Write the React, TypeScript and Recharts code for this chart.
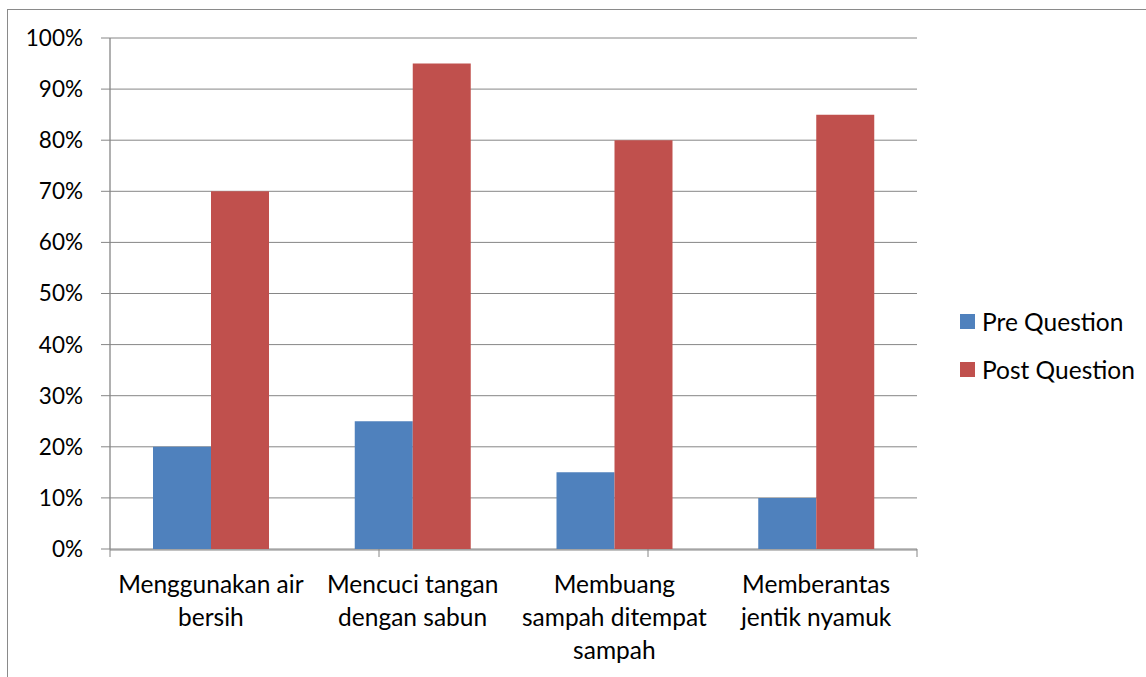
import React from 'react';
import { BarChart, Bar, XAxis, YAxis, CartesianGrid, Legend } from 'recharts';

const categories = [
  'Menggunakan air bersih',
  'Mencuci tangan dengan sabun',
  'Membuang sampah ditempat sampah',
  'Memberantas jentik nyamuk',
];
const categoryLines = [
  ['Menggunakan air', 'bersih'],
  ['Mencuci tangan', 'dengan sabun'],
  ['Membuang', 'sampah ditempat', 'sampah'],
  ['Memberantas', 'jentik nyamuk'],
];
const preQuestion = [0.2, 0.25, 0.15, 0.1];
const postQuestion = [0.7, 0.95, 0.8, 0.85];
const yTicks = [0, 0.1, 0.2, 0.3, 0.4, 0.5, 0.6, 0.7, 0.8, 0.9, 1];
const seriesNames = ['Pre Question', 'Post Question'];
const seriesColors = ['#4F81BD', '#C0504D'];

const data = categories.map((name, i) => ({
  name,
  idx: i,
  pre: preQuestion[i],
  post: postQuestion[i],
}));
const boundaryTicks = categories.map((_, i) => i).concat(categories.length);

const FONT = 'Lato, "Noto Sans", sans-serif';
const GRAY = '#868686';

const CatTick = (props: any) => {
  const { x, y, payload } = props;
  const i = categories.indexOf(payload.value);
  const lines = categoryLines[i] || [payload.value];
  return (
    <text x={x} y={y} textAnchor="middle" fill="#000" fontSize={24.5} fontFamily={FONT}>
      {lines.map((l: string, k: number) => (
        <tspan key={k} x={x} dy={k === 0 ? 43 : 33}>
          {l}
        </tspan>
      ))}
    </text>
  );
};

const EmptyTick = () => <g />;

const LegendContent = () => (
  <div style={{ fontFamily: FONT, fontSize: 24.5, color: '#000' }}>
    {seriesNames.map((n, i) => (
      <div key={n} style={{ display: 'flex', alignItems: 'center', height: 48 }}>
        <div style={{ width: 15, height: 15, background: seriesColors[i], marginRight: 7 }} />
        <span style={{ whiteSpace: 'nowrap' }}>{n}</span>
      </div>
    ))}
  </div>
);

export default function App() {
  return (
    <div style={{ position: 'absolute', left: 0, top: 0, width: 1146, height: 677, overflow: 'hidden', background: '#fff' }}>
      <div
        style={{
          position: 'absolute',
          left: 7,
          top: 9,
          width: 1146,
          height: 700,
          border: '1px solid #8a8a8a',
          boxSizing: 'border-box',
        }}
      />
      <div style={{ position: 'absolute', left: 0, top: 0 }}>
        <BarChart
          width={1146}
          height={677}
          data={data}
          margin={{ top: 38, right: 229, bottom: 126, left: 0 }}
          barCategoryGap={43}
          barGap={0}
        >
          <CartesianGrid vertical={false} stroke={GRAY} strokeWidth={1} />
          <XAxis
            xAxisId="cat"
            dataKey="name"
            height={1}
            interval={0}
            tickLine={false}
            tickSize={0}
            tickMargin={0}
            axisLine={{ stroke: GRAY }}
            stroke={GRAY}
            tick={<CatTick />}
          />
          <XAxis
            xAxisId="bounds"
            type="number"
            domain={[0, categories.length]}
            ticks={boundaryTicks}
            interval={0}
            height={1}
            axisLine={false}
            tick={<EmptyTick />}
            tickSize={8}
            tickLine={{ stroke: GRAY }}
            stroke={GRAY}
            allowDataOverflow
          />
          <YAxis
            width={110}
            domain={[0, 1]}
            ticks={yTicks}
            interval={0}
            tickFormatter={(v: number) => `${Math.round(v * 100)}%`}
            tickSize={9}
            tickMargin={18}
            axisLine={{ stroke: GRAY, strokeWidth: 1.3 }}
            tickLine={{ stroke: GRAY }}
            tick={{ fill: '#000', fontSize: 22.5, fontFamily: FONT }}
          />
          <Legend
            layout="vertical"
            align="center"
            verticalAlign="middle"
            content={<LegendContent />}
            wrapperStyle={{ position: 'absolute', left: 960, top: 297, width: 190 }}
          />
          <Bar xAxisId="cat" dataKey="pre" name={seriesNames[0]} fill={seriesColors[0]} isAnimationActive={false} />
          <Bar xAxisId="cat" dataKey="post" name={seriesNames[1]} fill={seriesColors[1]} isAnimationActive={false} />
        </BarChart>
      </div>
    </div>
  );
}
